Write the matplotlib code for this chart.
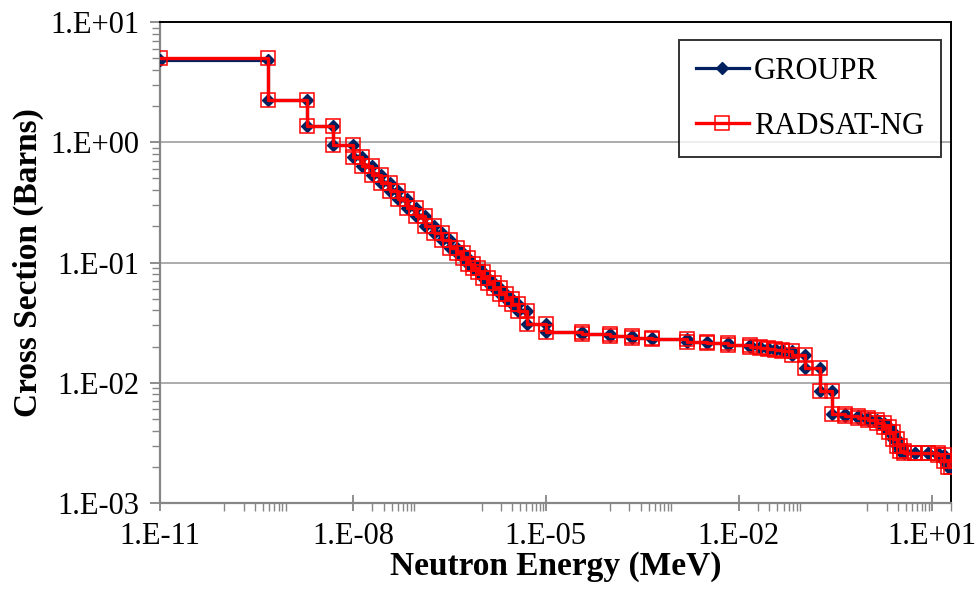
import numpy as np
import matplotlib
matplotlib.use("Agg")
import matplotlib.pyplot as plt
from matplotlib.ticker import FixedLocator, FuncFormatter, NullFormatter

# group boundaries (MeV) and group cross sections (barns)
edges = [1.0e-11, 4.8e-10, 1.93e-9, 4.9e-9, 1.0e-8,
         1.38e-8, 1.97e-8, 2.72e-8, 3.76e-8, 5.0e-8, 6.9e-8, 9.5e-8,
         1.31e-7, 1.81e-7, 2.42e-7, 3.23e-7, 4.14e-7, 5.13e-7, 6.14e-7,
         7.34e-7, 8.78e-7, 1.05e-6, 1.26e-6, 1.56e-6, 1.93e-6, 2.39e-6,
         2.96e-6, 3.67e-6, 5.07e-6, 1.0e-5,
         3.63e-5, 1.0e-4, 2.17e-4, 4.45e-4, 1.56e-3, 3.18e-3, 6.76e-3,
         1.48e-2, 2.12e-2, 2.83e-2, 3.63e-2, 4.67e-2, 6.67e-2, 0.106,
         0.182, 0.279,
         0.445, 0.71, 1.01, 1.4, 1.8, 2.15, 2.5, 2.87, 3.2, 3.7, 5.5,
         8.7, 12.4, 15.4, 17.8, 20.0]

groupr_xs = [4.8, 2.24, 1.36, 0.94,
             0.750, 0.631, 0.531, 0.455, 0.391, 0.335, 0.282, 0.242,
             0.203, 0.175, 0.153, 0.133, 0.119, 0.108, 0.098, 0.0908,
             0.0826, 0.0750, 0.0681, 0.0619, 0.0552, 0.0501, 0.0455,
             0.0398, 0.0310,
             0.0266, 0.0256, 0.0246, 0.0237, 0.0233, 0.0220, 0.0216,
             0.0207, 0.0200, 0.0196, 0.0192, 0.0188, 0.0185, 0.0171,
             0.0133, 0.0086,
             0.0055, 0.0053, 0.0051, 0.0049, 0.0046, 0.0043, 0.0039,
             0.0034, 0.0030, 0.0027, 0.0026, 0.0026, 0.0026, 0.0025,
             0.00225, 0.0020]

# RADSAT-NG matches GROUPR except the first thermal group
radsat_xs = [5.0] + groupr_xs[1:]

x_major = [1e-11, 1e-8, 1e-5, 1e-2, 1e1]
y_major = [1e-3, 1e-2, 1e-1, 1e0, 1e1]


def step_points(e, v):
    # each group is drawn as two points: lower and upper edge
    xs = np.column_stack([e[:-1], e[1:]]).ravel()
    ys = np.repeat(v, 2)
    return xs, ys


plt.rcParams['font.family'] = ['Liberation Serif', 'DejaVu Serif']

fig = plt.figure(figsize=(9.78, 6.05), dpi=100)
ax = fig.add_axes([0.1636, 0.1686, 0.8088, 0.795])

gx, gy = step_points(np.array(edges), np.array(groupr_xs))
rx, ry = step_points(np.array(edges), np.array(radsat_xs))

ax.plot(gx, gy, color='#002060', lw=2.3, marker='D', ms=6.5,
        mfc='#002060', mec='#002060', label='GROUPR', zorder=3)
ax.plot(rx, ry, color='#ff0000', lw=2.4, marker='s', ms=9.5,
        mfc='none', mec='#ff0000', mew=1.1, label='RADSAT-NG', zorder=4)

ax.set_xscale('log')
ax.set_yscale('log')
ax.set_xlim(1e-11, 20)
ax.set_ylim(1e-3, 1e1)

ax.xaxis.set_major_locator(FixedLocator(x_major))
minor_x = [k * 10.0 ** m for m in range(-10, 2, 2) for k in range(1, 10)]
ax.xaxis.set_minor_locator(FixedLocator([t for t in minor_x if t <= 20 and t not in x_major] + [20]))
ax.yaxis.set_major_locator(FixedLocator(y_major))
ax.yaxis.set_minor_locator(FixedLocator([k * 10.0 ** m for m in range(-3, 1) for k in range(2, 10)]))

fmt = FuncFormatter(lambda v, p: "1.E%+03d" % int(round(np.log10(v))))
ax.xaxis.set_major_formatter(fmt)
ax.yaxis.set_major_formatter(fmt)
ax.xaxis.set_minor_formatter(NullFormatter())
ax.yaxis.set_minor_formatter(NullFormatter())

ax.tick_params(axis='both', which='major', labelsize=22, color='#868686',
               width=1.3, length=7, direction='out', pad=8)
ax.tick_params(axis='x', which='major', direction='inout', length=12)
ax.tick_params(axis='both', which='minor', color='#868686', width=1.0,
               length=6, direction='out')

ax.grid(axis='y', which='major', color='#a6a6a6', lw=1.3)
ax.set_axisbelow(True)

for side in ['left', 'bottom']:
    ax.spines[side].set_color('#868686')
    ax.spines[side].set_linewidth(1.6)
for side in ['top', 'right']:
    ax.spines[side].set_color('black')
    ax.spines[side].set_linewidth(1.4)

ax.set_xlabel('Neutron Energy (MeV)', fontsize=24, fontweight='bold', labelpad=0)
ax.set_ylabel('Cross Section (Barns)', fontsize=24, fontweight='bold', labelpad=4)

leg = ax.legend(loc='upper right', bbox_to_anchor=(0.987, 0.963), fontsize=22,
                frameon=True, fancybox=False, edgecolor='black',
                handlelength=1.75, handletextpad=0.15, labelspacing=0.85,
                borderpad=0.55, borderaxespad=0)
leg.get_frame().set_linewidth(1.4)

fig.savefig('out.png', dpi=100)
